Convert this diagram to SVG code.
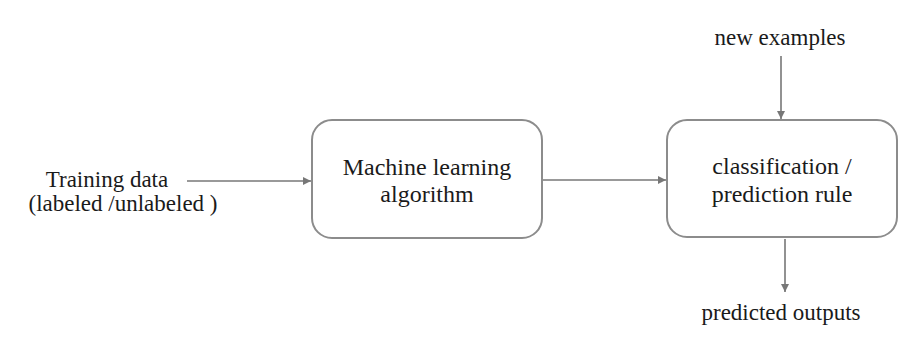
<svg xmlns="http://www.w3.org/2000/svg" width="908" height="358" viewBox="0 0 908 358">
<style>
.box{fill:#fff;stroke:#8c8c8c;stroke-width:2}
.t{font-family:'Liberation Serif','Times New Roman','DejaVu Serif',serif;font-size:23px;fill:#1a1a1a}
.b{font-size:24px}
.c{stroke:#777;stroke-width:1.6;fill:none}
</style>
<defs>
<marker id="ah" viewBox="0 0 10 10" refX="10" refY="5" markerWidth="8" markerHeight="8" markerUnits="userSpaceOnUse" orient="auto">
<path d="M0,0 L10,5 L0,10 z" fill="#777"/>
</marker>
</defs>
<rect width="908" height="358" fill="#fff"/>
<g id="connectors">
<line class="c" x1="187" y1="181" x2="311" y2="181" marker-end="url(#ah)"/>
<line class="c" x1="543" y1="180" x2="666" y2="180" marker-end="url(#ah)"/>
<line class="c" x1="781" y1="56" x2="781" y2="119" marker-end="url(#ah)"/>
<line class="c" x1="785" y1="239" x2="785" y2="292" marker-end="url(#ah)"/>
</g>
<g id="training">
<text class="t" x="107" y="187" text-anchor="middle">Training data</text>
<text class="t" x="123" y="211" text-anchor="middle">(labeled /unlabeled )</text>
</g>
<g id="ml">
<rect class="box" x="312" y="120" width="230" height="118" rx="20"/>
<text class="t b" x="427" y="175" text-anchor="middle">Machine learning</text>
<text class="t b" x="427" y="202" text-anchor="middle">algorithm</text>
</g>
<g id="rule">
<rect class="box" x="667" y="120" width="230" height="117" rx="20"/>
<text class="t b" x="782" y="174" text-anchor="middle">classification /</text>
<text class="t b" x="782" y="202" text-anchor="middle">prediction rule</text>
</g>
<g id="newex">
<text class="t" x="780" y="45" text-anchor="middle">new examples</text>
</g>
<g id="pred">
<text class="t" x="781" y="320" text-anchor="middle">predicted outputs</text>
</g>
</svg>
